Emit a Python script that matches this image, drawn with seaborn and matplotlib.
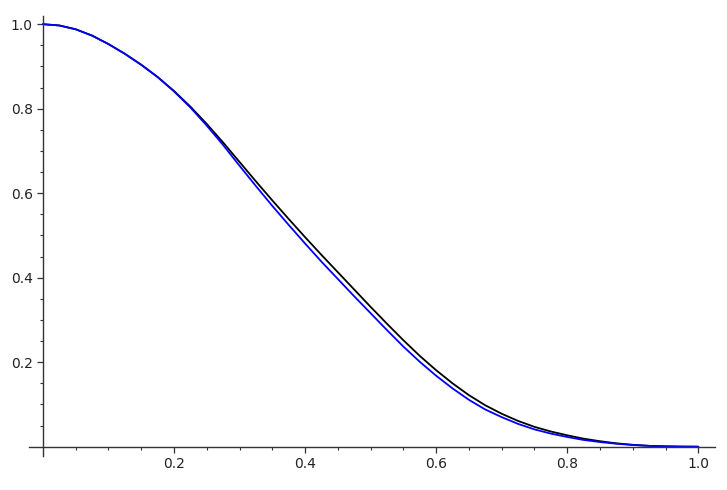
import numpy as np
import pandas as pd
import matplotlib
matplotlib.use("Agg")
import matplotlib.pyplot as plt
import seaborn as sns

# values, every 0.025 along x
x_vals = [0.0, 0.025, 0.05, 0.075, 0.1, 0.125, 0.15, 0.175, 0.2, 0.225,
          0.25, 0.275, 0.3, 0.325, 0.35, 0.375, 0.4, 0.425, 0.45, 0.475,
          0.5, 0.525, 0.55, 0.575, 0.6, 0.625, 0.65, 0.675, 0.7, 0.725,
          0.75, 0.775, 0.8, 0.825, 0.85, 0.875, 0.9, 0.925, 0.95, 0.975, 1.0]
black_vals = [1.000, 0.997, 0.988, 0.973, 0.953, 0.930, 0.904, 0.875, 0.842, 0.805,
              0.764, 0.720, 0.674, 0.628, 0.583, 0.539, 0.496, 0.454, 0.413, 0.372,
              0.331, 0.291, 0.252, 0.215, 0.181, 0.150, 0.122, 0.098, 0.078, 0.061,
              0.047, 0.036, 0.027, 0.019, 0.013, 0.008, 0.0045, 0.002, 0.0008, 0.0002, 0.0]
blue_vals = [1.000, 0.997, 0.988, 0.973, 0.953, 0.930, 0.904, 0.875, 0.841, 0.803,
             0.760, 0.714, 0.665, 0.617, 0.570, 0.525, 0.481, 0.438, 0.397, 0.356,
             0.316, 0.276, 0.237, 0.201, 0.168, 0.138, 0.111, 0.088, 0.070, 0.054,
             0.041, 0.031, 0.023, 0.016, 0.011, 0.007, 0.004, 0.002, 0.0008, 0.0002, 0.0]

major_ticks = [0.2, 0.4, 0.6, 0.8, 1.0]
tick_labels = ["0.2", "0.4", "0.6", "0.8", "1.0"]

df = pd.DataFrame({"x": x_vals, "black": black_vals, "blue": blue_vals})

sns.set_style("white")
plt.rcParams['font.family'] = ['DejaVu Sans']

fig = plt.figure(figsize=(7.27, 4.9), dpi=100)
ax = fig.add_axes([0.0399, 0.0694, 0.9436, 0.8976])

sns.lineplot(data=df, x="x", y="black", color="black", linewidth=1.3, ax=ax)
sns.lineplot(data=df, x="x", y="blue", color="blue", linewidth=1.3, ax=ax)

ax.set_xlim(-0.0212, 1.0255)
ax.set_ylim(-0.022, 1.019)
ax.set_xlabel("")
ax.set_ylabel("")

# axes cross at the origin, like a sage plot
for side in ["top", "right"]:
    ax.spines[side].set_visible(False)
for side in ["left", "bottom"]:
    ax.spines[side].set_position(("data", 0))
    ax.spines[side].set_color("#333333")
    ax.spines[side].set_linewidth(1.0)

minor = [m / 20 for m in range(1, 21) if m % 4 != 0]
ax.set_xticks(major_ticks)
ax.set_xticklabels(tick_labels)
ax.set_yticks(major_ticks)
ax.set_yticklabels(tick_labels)
ax.set_xticks(minor, minor=True)
ax.set_yticks(minor, minor=True)

ax.tick_params(which="major", direction="out", length=4.3, width=0.9,
               color="#333333", labelsize=10, labelcolor="#222222", pad=3,
               bottom=True, left=True)
ax.tick_params(which="minor", direction="out", length=2.5, width=0.8,
               color="#333333", bottom=True, left=True)

fig.savefig("out.png", dpi=100)
